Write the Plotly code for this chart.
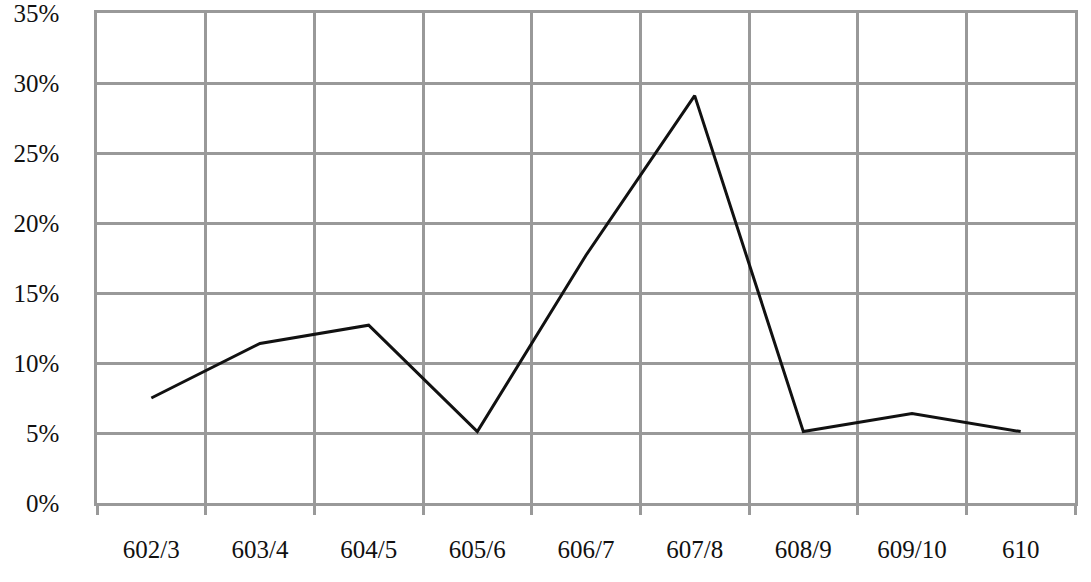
import plotly.graph_objects as go

periods = ["602/3", "603/4", "604/5", "605/6", "606/7", "607/8", "608/9", "609/10", "610"]
shares = [0.075, 0.114, 0.127, 0.051, 0.177, 0.291, 0.051, 0.064, 0.051]
y_ticks = [0, 0.05, 0.10, 0.15, 0.20, 0.25, 0.30, 0.35]

grid = "#999999"
font = dict(family="Liberation Serif, Times New Roman, serif", size=25, color="#111111")

fig = go.Figure()
fig.add_trace(go.Scatter(x=periods, y=shares, mode="lines",
                         line=dict(color="#111111", width=3), hoverinfo="skip"))

fig.update_layout(
    width=1091, height=582, margin=dict(l=97, r=16, t=13, b=79),
    paper_bgcolor="white", plot_bgcolor="white", showlegend=False, font=font,
)
fig.update_xaxes(type="category", range=[-0.5, 8.5], tickson="boundaries",
                 showgrid=True, gridcolor=grid, gridwidth=2.5,
                 showline=True, mirror=True, linecolor=grid, linewidth=2.5,
                 ticks="outside", ticklen=9, tickwidth=2.5, tickcolor=grid,
                 ticklabelstandoff=22, automargin=False)
fig.update_yaxes(range=[0, 0.35], tickvals=y_ticks, tickformat=".0%",
                 showgrid=True, gridcolor=grid, gridwidth=2.5, zeroline=False,
                 showline=True, mirror=True, linecolor=grid, linewidth=2.5,
                 ticks="", ticklabelstandoff=30, ticklabeloverflow="allow",
                 automargin=False)

# drop the default 8px body margin so the figure sits at the window's corner
fig.write_html("out.html", config={"displayModeBar": False},
               post_script="document.body.style.margin='0';")
